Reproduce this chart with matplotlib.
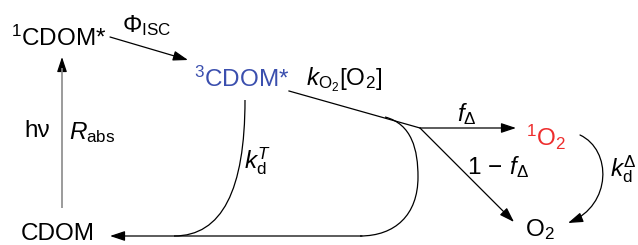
import matplotlib
matplotlib.use("Agg")
import matplotlib.pyplot as plt
from matplotlib.path import Path
from matplotlib.patches import PathPatch, FancyArrowPatch

plt.rcParams['font.family'] = ['Liberation Sans', 'DejaVu Sans']
plt.rcParams['mathtext.fontset'] = 'custom'
plt.rcParams['mathtext.rm'] = 'Liberation Sans'
plt.rcParams['mathtext.it'] = 'Liberation Sans:italic'
plt.rcParams['mathtext.bf'] = 'Liberation Sans:bold'
plt.rcParams['mathtext.sf'] = 'Liberation Sans'

# ---- diagram content ----
species = ['$^1$CDOM*', '$^3$CDOM*', 'CDOM', '$^1$O$_2$', 'O$_2$']
species_colors = ['black', '#3b4fae', 'black', '#ee2d2d', 'black']
rate_labels = [r'$\Phi_{\rm ISC}$', r'$k_{\rm O_2}$[O$_2$]', r'$f_\Delta$',
               r'1$\,-\,f_\Delta$', r'$k_{\rm d}^{\Delta}$', 'h\u03bd',
               r'$R_{\rm abs}$', r'$k_{\rm d}^{T}$']

# layout (pixel coordinates, y downwards)
species_pos = [(11, 38), (194, 79), (21, 234), (526, 137), (525, 230)]
rate_pos = [(122, 26), (306, 80), (457, 114), (467, 167), (610, 169),
            (24, 131), (69, 133), (244, 161)]

W, H = 638, 245
fig = plt.figure(figsize=(W / 100, H / 100), dpi=100)
ax = fig.add_axes([0, 0, 1, 1])
ax.set_xlim(0, W)
ax.set_ylim(H, 0)
ax.axis('off')

FS = 17.5
for s, c, (x, y) in zip(species, species_colors, species_pos):
    ax.text(x, y, s, color=c, fontsize=FS, ha='left', va='center')
for s, (x, y) in zip(rate_labels, rate_pos):
    ax.text(x, y, s, color='black', fontsize=FS, ha='left', va='center')

LW = 0.9
AST = '-|>,head_length=0.9,head_width=0.3'


def arrow(p0, p1):
    a = FancyArrowPatch(p0, p1, arrowstyle=AST, mutation_scale=10,
                        color='black', lw=LW, shrinkA=0, shrinkB=0)
    ax.add_patch(a)


def curve(verts, codes, with_arrow=False):
    p = Path(verts, codes)
    if with_arrow:
        ax.add_patch(FancyArrowPatch(path=p, arrowstyle=AST, mutation_scale=10,
                                     color='black', lw=LW))
    else:
        ax.add_patch(PathPatch(p, fill=False, edgecolor='black', lw=LW))


# 1CDOM* -> 3CDOM*
arrow((110, 37), (188, 60))
# absorption arrow (grey shaft)
ax.plot([62, 62], [208, 68], color='#8a8a8a', lw=1.2, solid_capstyle='butt')
arrow((62, 70), (62, 57))
# 3CDOM* -> branch point
ax.plot([289, 420], [91, 128], color='black', lw=LW)
# branch arrows
arrow((420, 128), (516, 128))
arrow((420, 128), (514, 222))
# kd^T decay curve
M, C = Path.MOVETO, Path.CURVE4
curve([(245, 100), (245, 190), (222, 236), (174, 236)], [M, C, C, C])
# big loop back to CDOM
curve([(385, 117), (412, 124), (418, 150), (418, 177),
       (418, 215), (395, 236), (360, 236)], [M, C, C, C, C, C, C])
arrow((362, 236), (110, 236))
# 1O2 -> O2 curved arrow
curve([(580, 135), (612, 150), (612, 205), (568, 223)], [M, C, C, C],
      with_arrow=True)

fig.savefig('out.png', dpi=100)
